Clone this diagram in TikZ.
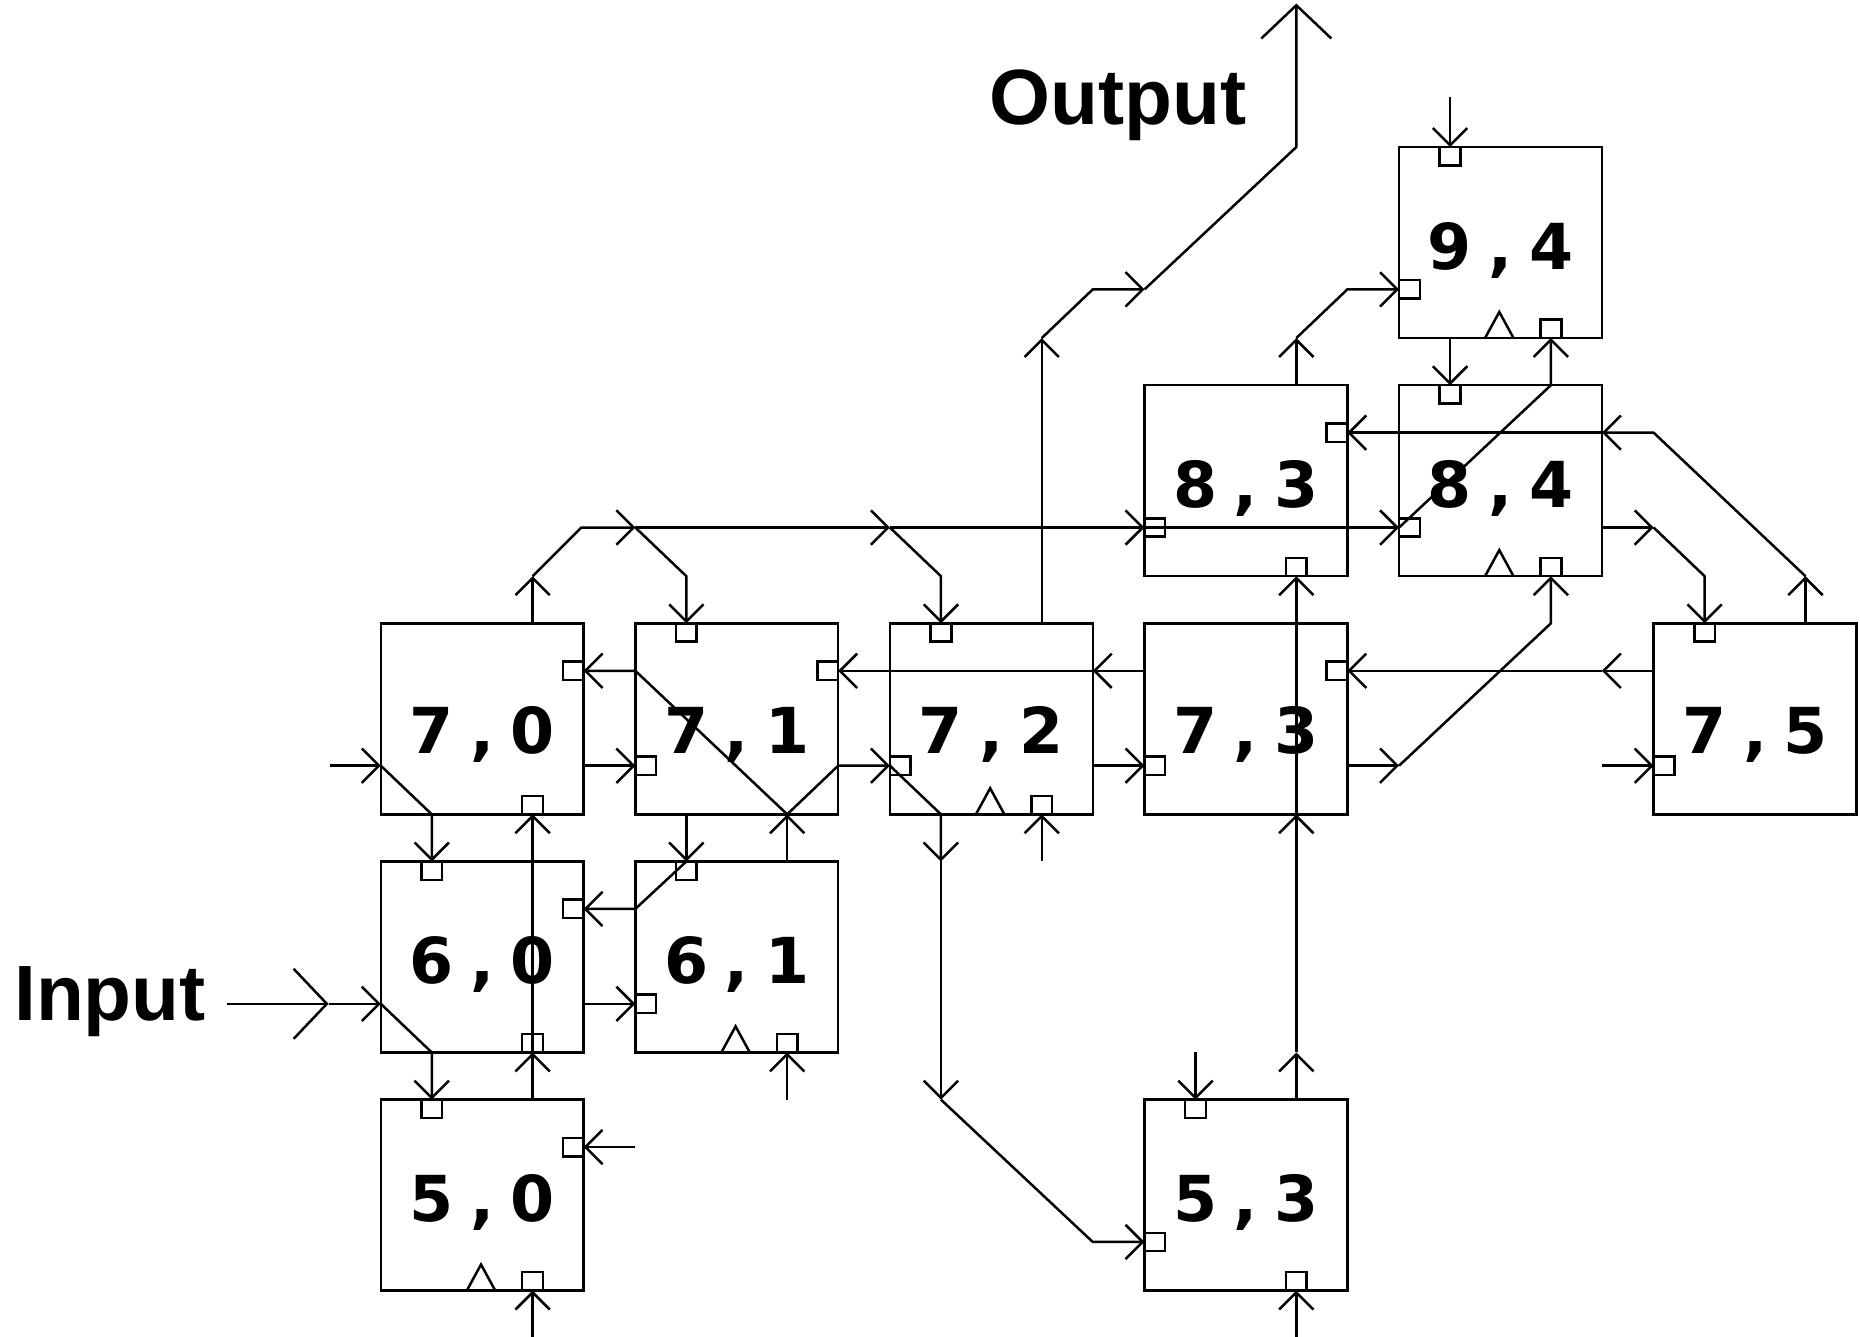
\documentclass[tikz,border=0pt]{standalone}
\usepackage{fontspec}
\newfontfamily\cellfont[LetterSpace=26]{DejaVu Sans}
\newfontfamily\iofont{Liberation Sans}
\usetikzlibrary{arrows.meta,positioning}

\begin{document}
\begin{tikzpicture}[
  x=1mm, y=1mm, line width=0.6pt,
  cell/.style={draw, minimum width=17.1mm, minimum height=16.1mm, inner sep=0pt, outer sep=0pt, text height=4.5mm, text depth=0pt, font=\cellfont\bfseries\fontsize{15.2pt}{15.2pt}\selectfont},
  rowseven/.style={text height=5.9mm},
  port/.style={draw, minimum width=1.75mm, minimum height=1.55mm, inner sep=0pt, outer sep=0pt},
  arr/.style={-{Straight Barb[length=1.45mm, width=2.9mm]}},
  bigarr/.style={-{Straight Barb[length=2.8mm, width=5.9mm]}},
  io/.style={font=\iofont\bfseries\fontsize{18.8pt}{18.8pt}\selectfont, inner sep=0pt, anchor=base west}
]
\useasboundingbox (0,0) rectangle (156.8,112.7);

\node[cell, rowseven] (c70) at (40.65,52.1) {7,0};
\node[cell, rowseven, right=4.36mm of c70] (c71) {7,1};
\node[cell, rowseven, right=4.36mm of c71] (c72) {7,2};
\node[cell, rowseven, right=4.36mm of c72] (c73) {7,3};
\node[cell, rowseven, right=25.82mm of c73] (c75) {7,5};
\node[cell, above=3.975mm of c73] (c83) {8,3};
\node[cell, right=4.36mm of c83] (c84) {8,4};
\node[cell, above=3.975mm of c84] (c94) {9,4};
\node[cell, below=3.975mm of c70] (c60) {6,0};
\node[cell, right=4.36mm of c60] (c61) {6,1};
\node[cell, below=3.975mm of c60] (c50) {5,0};
\node[cell, below=24.05mm of c73] (c53) {5,3};

\node[port, anchor=north] (c94t) at ([xshift=4.3mm]c94.north west) {};
\node[port, anchor=west] (c94l) at ([yshift=-12mm]c94.north west) {};
\node[port, anchor=south] (c94b) at ([xshift=12.8mm]c94.south west) {};
\node[port, anchor=east] (c83r) at ([yshift=-4mm]c83.north east) {};
\node[port, anchor=west] (c83l) at ([yshift=-12mm]c83.north west) {};
\node[port, anchor=south] (c83b) at ([xshift=12.8mm]c83.south west) {};
\node[port, anchor=north] (c84t) at ([xshift=4.3mm]c84.north west) {};
\node[port, anchor=west] (c84l) at ([yshift=-12mm]c84.north west) {};
\node[port, anchor=south] (c84b) at ([xshift=12.8mm]c84.south west) {};
\node[port, anchor=east] (c70r) at ([yshift=-4mm]c70.north east) {};
\node[port, anchor=south] (c70b) at ([xshift=12.8mm]c70.south west) {};
\node[port, anchor=north] (c71t) at ([xshift=4.3mm]c71.north west) {};
\node[port, anchor=east] (c71r) at ([yshift=-4mm]c71.north east) {};
\node[port, anchor=west] (c71l) at ([yshift=-12mm]c71.north west) {};
\node[port, anchor=north] (c72t) at ([xshift=4.3mm]c72.north west) {};
\node[port, anchor=west] (c72l) at ([yshift=-12mm]c72.north west) {};
\node[port, anchor=south] (c72b) at ([xshift=12.8mm]c72.south west) {};
\node[port, anchor=east] (c73r) at ([yshift=-4mm]c73.north east) {};
\node[port, anchor=west] (c73l) at ([yshift=-12mm]c73.north west) {};
\node[port, anchor=north] (c75t) at ([xshift=4.3mm]c75.north west) {};
\node[port, anchor=west] (c75l) at ([yshift=-12mm]c75.north west) {};
\node[port, anchor=north] (c60t) at ([xshift=4.3mm]c60.north west) {};
\node[port, anchor=east] (c60r) at ([yshift=-4mm]c60.north east) {};
\node[port, anchor=south] (c60b) at ([xshift=12.8mm]c60.south west) {};
\node[port, anchor=north] (c61t) at ([xshift=4.3mm]c61.north west) {};
\node[port, anchor=west] (c61l) at ([yshift=-12mm]c61.north west) {};
\node[port, anchor=south] (c61b) at ([xshift=12.8mm]c61.south west) {};
\node[port, anchor=north] (c50t) at ([xshift=4.3mm]c50.north west) {};
\node[port, anchor=east] (c50r) at ([yshift=-4mm]c50.north east) {};
\node[port, anchor=south] (c50b) at ([xshift=12.8mm]c50.south west) {};
\node[port, anchor=north] (c53t) at ([xshift=4.3mm]c53.north west) {};
\node[port, anchor=west] (c53l) at ([yshift=-12mm]c53.north west) {};
\node[port, anchor=south] (c53b) at ([xshift=12.8mm]c53.south west) {};

\draw ([xshift=7.25mm]c50.south west) -- ++(1.2,2.2) -- ++(1.2,-2.2);
\draw ([xshift=7.25mm]c61.south west) -- ++(1.2,2.2) -- ++(1.2,-2.2);
\draw ([xshift=7.25mm]c72.south west) -- ++(1.2,2.2) -- ++(1.2,-2.2);
\draw ([xshift=7.25mm]c84.south west) -- ++(1.2,2.2) -- ++(1.2,-2.2);
\draw ([xshift=7.25mm]c94.south west) -- ++(1.2,2.2) -- ++(1.2,-2.2);

\node[io] (inlbl) at (1.1,26.7) {Input};
\node[io] (outlbl) at (83.3,102.16) {Output};

\coordinate (base) at (0,0);
\coordinate (top) at (0,112.4);
\coordinate (inA) at (19.1,28.075);
\coordinate (in70) at (27.8,48.15);
\coordinate (o75) at ([xshift=12.8mm]c75.north west);

% input side
\draw[bigarr] (inA) -- ++(8.6,0) coordinate (inB);
\draw[arr] (inB) -- (c60.west |- inA);
\draw[arr] (c60.west |- inA) -- (c50t |- c60.south) -- (c50t.north);
\draw[arr] (in70) -- (c70.west |- in70);
\draw[arr] (c70.west |- in70) -- (c60t |- c70.south) -- (c60t.north);
\draw[arr] (c50b |- base) -- (c50b.south);
\draw[arr] (c50r -| c61.west) -- (c50r.east);
\draw[arr] (c50b |- c50.north) -- (c60b.south);
\draw[arr] (c60b.south) -- (c70b.south);
\draw[arr] (c60.east |- c61l) -- (c61l.west);
\draw[arr] (c61b |- c50.north) -- (c61b.south);
\draw[arr] (c61b |- c61.north) -- (c61b |- c71.south);
\draw[arr] (c61b |- c71.south) -- (c71.west |- c71r) -- (c70r.east);
\draw[arr] (c61b |- c71.south) -- (c71.east |- c71l) -- (c72l.west);
\draw[arr] (c70.east |- c71l) -- (c71l.west);
\draw[arr] (c71t |- c71.south) -- (c61t.north);
\draw[arr] (c61t.north) -- (c61.west |- c60r) -- (c60r.east);

% upper bus
\draw[arr] (c70b |- c70.north) -- (c70b |- c83.south);
\draw[arr] (c70b |- c83.south) -- ++(4.1,4.1) -- (c71.west |- c83l);
\draw[arr] (c71.west |- c83l) -- (c72.west |- c83l);
\draw[arr] (c72.west |- c83l) -- (c83l.west);
\draw[arr] (c83l.west) -- (c84l.west);
\draw[arr] (c84l.west) -- (c94b |- c84.north) -- (c94b.south);
\draw[arr] (c71.west |- c83l) -- (c71t |- c83.south) -- (c71t.north);
\draw[arr] (c72.west |- c83l) -- (c72t |- c83.south) -- (c72t.north);

% row 7
\draw[arr] (c73.west |- c71r) -- (c72.east |- c71r);
\draw[arr] (c72.east |- c71r) -- (c71r.east);
\draw[arr] (c72.east |- c72l) -- (c73l.west);
\draw[arr] (c72b |- c61.north) -- (c72b.south);
\draw[arr] (c72l.west) -- (c72t |- c72.south) -- (c72t |- c61.north);
\draw[arr] (c72t |- c61.north) -- (c72t |- c53.north);
\draw[arr] (c72t |- c53.north) -- (c72.east |- c53l) -- (c53l.west);

% output
\draw[arr] (c72b |- c72.north) -- (c72b |- c94.south);
\draw[arr] (c72b |- c94.south) -- (c72.east |- c94l) -- (c73.west |- c94l);
\draw[bigarr] (c73.west |- c94l) -- (c83b |- c94.north) -- (c83b |- top);

% column 3 and right side
\draw[arr] (c53t |- c61.south) -- (c53t.north);
\draw[arr] (c53b |- base) -- (c53b.south);
\draw[arr] (c53b |- c53.north) -- (c53b |- c60.south);
\draw[arr] (c53b |- c60.south) -- (c53b |- c73.south);
\draw[arr] (c53b |- c73.south) -- (c83b.south);
\draw[arr] (c73.east |- c73l) -- (c84.west |- c73l);
\draw[arr] (c84.west |- c73l) -- (c84b |- c73.north) -- (c84b.south);
\draw[arr] (c84.east |- c75l) -- (c75l.west);
\draw[arr] (c75.west |- c73r) -- (c84.east |- c73r);
\draw[arr] (c84.east |- c73r) -- (c73r.east);
\draw[arr] (o75) -- (o75 |- c84.south);
\draw[arr] (o75 |- c84.south) -- (c75.west |- c83r) -- (c84.east |- c83r);
\draw[arr] (c84.east |- c83r) -- (c83r.east);
\draw[arr] (c84.east |- c84l) -- (c75.west |- c84l);
\draw[arr] (c75.west |- c84l) -- (c75t |- c84.south) -- (c75t.north);
\draw[arr] (c83b |- c83.north) -- (c83b |- c94.south);
\draw[arr] (c83b |- c94.south) -- (c83.east |- c94l) -- (c94l.west);
\draw[arr] (c94t |- c94.south) -- (c84t.north);
\draw[arr] ([yshift=4.2mm]c94t.north) -- (c94t.north);

\end{tikzpicture}
\end{document}
